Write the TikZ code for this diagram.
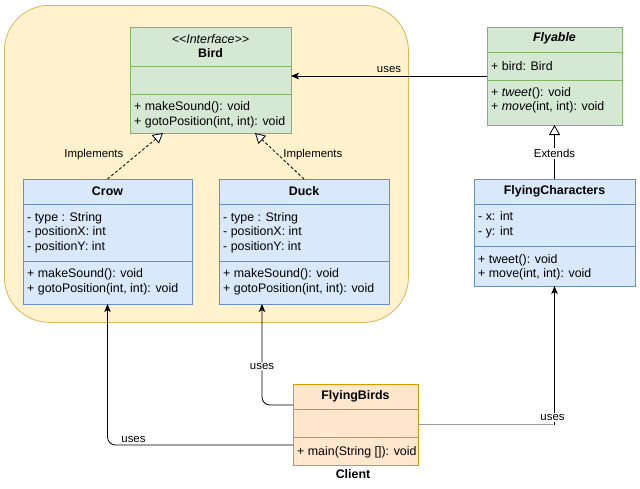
\documentclass[tikz,border=0pt]{standalone}
\usepackage{fontspec}
\setmainfont{Liberation Sans}
\usetikzlibrary{arrows.meta}
\definecolor{gfill}{HTML}{D5E8D4}\definecolor{gline}{HTML}{82B366}
\definecolor{bfill}{HTML}{DAE8FC}\definecolor{bline}{HTML}{6C8EBF}
\definecolor{ofill}{HTML}{FFE6CC}\definecolor{oline}{HTML}{D79B00}
\definecolor{yfill}{HTML}{FFF2CC}\definecolor{yline}{HTML}{D6B656}
\newcommand{\bodyfont}{\fontsize{12.4}{14.5}\selectfont}
\newcommand{\lblfont}{\fontsize{11.4}{13}\selectfont}
\begin{document}
\begin{tikzpicture}[x=1pt,y=-1pt,
  cls/.style={draw, inner sep=0, outer sep=0, anchor=north west, line width=0.8pt},
  greencls/.style={cls, fill=gfill, draw=gline},
  bluecls/.style={cls, fill=bfill, draw=bline},
  orangecls/.style={cls, fill=ofill, draw=oline},
  txt/.style={inner sep=0, font=\bodyfont},
  ltxt/.style={txt, anchor=west, align=left},
  lbl/.style={inner sep=1.5pt, font=\lblfont},
  conn/.style={line width=0.8pt, draw=black},
  usesarrow/.style={conn, -{Stealth[length=8pt,width=6.5pt,inset=2pt]}, rounded corners=8pt},
  implarrow/.style={conn, densely dashed, -{Triangle[open,length=10pt,width=11pt,fill=white]}},
  extarrow/.style={conn, -{Triangle[open,length=10pt,width=11pt,fill=white]}}
]
\useasboundingbox (0,0) rectangle (640,488);
\fill[white] (0,0) rectangle (640,488);

% group background
\node[draw=yline, fill=yfill, line width=0.8pt, rounded corners=45pt, inner sep=0,
      minimum width=404pt, minimum height=317pt, anchor=north west] (grp) at (4,5) {};

% Bird
\node[greencls, minimum width=161pt, minimum height=106pt] (bird) at (130,27) {};
\draw[gline, line width=0.8pt] (130,66.5) -- (291,66.5) (130,94) -- (291,94);
\node[txt] (birdst) at (210.5,39) {\textit{{<}{<}Interface{>}{>}}};
\node[txt] (birdname) at (210.5,53.5) {\textbf{Bird}};
\node[ltxt] (birdops) at (134,115) {+ makeSound(): void\\+ gotoPosition(int, int): void};

% Flyable
\node[greencls, minimum width=135pt, minimum height=98pt] (flyable) at (487,27) {};
\draw[gline, line width=0.8pt] (487,52) -- (622,52) (487,80) -- (622,80);
\node[txt] (flyname) at (554.5,38.5) {\textbf{\textit{Flyable}}};
\node[ltxt] (flyattr) at (491,66) {+ bird: Bird};
\node[ltxt] (flyops) at (491,100.5) {+ \textit{tweet}(): void\\+ \textit{move}(int, int): void};

% Crow
\node[bluecls, minimum width=169pt, minimum height=125pt] (crow) at (23,179) {};
\draw[bline, line width=0.8pt] (23,204) -- (192,204) (23,261) -- (192,261);
\node[txt] (crowname) at (107.5,191.5) {\textbf{Crow}};
\node[ltxt] (crowattr) at (27,232.5) {- type : String\\- positionX: int\\- positionY: int};
\node[ltxt] (crowops) at (27,282) {+ makeSound(): void\\+ gotoPosition(int, int): void};

% Duck
\node[bluecls, minimum width=170pt, minimum height=125pt] (duck) at (219,179) {};
\draw[bline, line width=0.8pt] (219,204) -- (389,204) (219,261) -- (389,261);
\node[txt] (duckname) at (304,191.5) {\textbf{Duck}};
\node[ltxt] (duckattr) at (223,232.5) {- type : String\\- positionX: int\\- positionY: int};
\node[ltxt] (duckops) at (223,282) {+ makeSound(): void\\+ gotoPosition(int, int): void};

% FlyingCharacters
\node[bluecls, minimum width=161pt, minimum height=107pt] (fc) at (474,179) {};
\draw[bline, line width=0.8pt] (474,204) -- (635,204) (474,246) -- (635,246);
\node[txt] (fcname) at (554.5,191.5) {\textbf{FlyingCharacters}};
\node[ltxt] (fcattr) at (478,225) {- x: int\\- y: int};
\node[ltxt] (fcops) at (478,267.5) {+ tweet(): void\\+ move(int, int): void};

% FlyingBirds
\node[orangecls, minimum width=125pt, minimum height=81pt] (fb) at (293,384) {};
\draw[oline, line width=0.8pt] (293,409) -- (418,409) (293,437) -- (418,437);
\node[txt] (fbname) at (355.5,396.5) {\textbf{FlyingBirds}};
\node[ltxt] (fbops) at (297,452) {+ main(String []): void};
\node[txt] (client) at (353,474) {\textbf{Client}};

% connectors
\draw[usesarrow] (flyable.west) -- (flyable.west -| bird.east)
  node[lbl, pos=0.5, above, yshift=1pt] (l1) {uses};

\coordinate (birdA) at ([xshift=-47.5pt]bird.south);
\coordinate (birdB) at ([xshift=44.5pt]bird.south);
\draw[implarrow] (crow.north) -- (birdA)
  node[lbl, pos=0.5, left, xshift=-10pt, yshift=1pt] (l2) {Implements};
\draw[implarrow] (duck.north) -- (birdB)
  node[lbl, pos=0.5, right, xshift=2pt, yshift=1pt] (l3) {Implements};

\draw[extarrow] (fc.north) -- (flyable.south)
  node[lbl, pos=0.47, fill=white, inner sep=1pt] (l4) {Extends};

\coordinate (duckin) at ([xshift=-42pt]duck.south);
\draw[usesarrow] ([yshift=19.5pt]fb.west) -| (duckin)
  node[lbl, pos=0.69, fill=white, inner sep=1pt] (l5) {uses};

\draw[usesarrow] ([yshift=-20.5pt]fb.west) -| (crow.south)
  node[lbl, pos=0.43, above, yshift=0pt] (l6) {uses};

\coordinate (fbcorner) at (fb.east -| fc.south);
\draw[line width=0.8pt, draw=black!40] (fb.east) -- ([xshift=-2pt]fbcorner);
\draw[usesarrow] (fbcorner) -- (fc.south);
\node[lbl, fill=white, inner sep=1pt] (l7) at ([yshift=7pt,xshift=-2pt]fbcorner) {uses};
\end{tikzpicture}
\end{document}
